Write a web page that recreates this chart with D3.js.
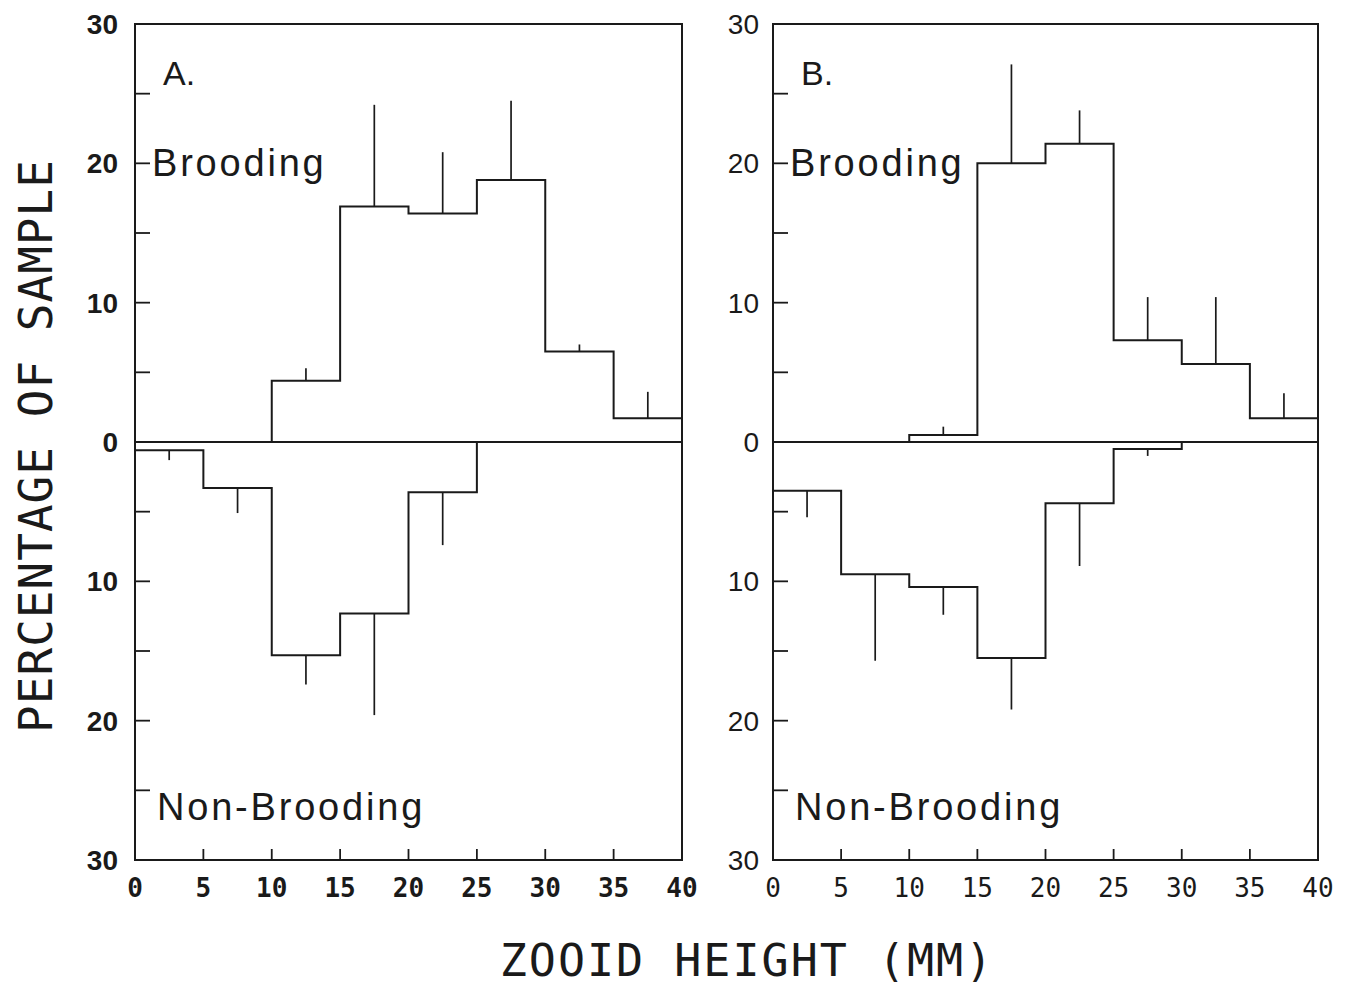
<!DOCTYPE html>
<html>
<head>
<meta charset="utf-8">
<script src="https://cdn.jsdelivr.net/npm/d3@7"></script>
<style>
  html, body { margin: 0; padding: 0; background: #fff; }
  svg { display: block; }
</style>
</head>
<body>
<svg id="chart" width="1356" height="986"></svg>
<script>
// Height classes (mm): bins of 5 mm from 0 to 40
const binEdges = [0, 5, 10, 15, 20, 25, 30, 35, 40];
const xTickValues = [0, 5, 10, 15, 20, 25, 30, 35, 40];
const yLabelValues = [30, 20, 10, 0, -10, -20, -30];
const yMinorTicks = [25, 20, 15, 10, 5, -5, -10, -15, -20, -25];

// Panel A: percentage of sample per height class, with error bars
const broodingA = [0, 0, 4.4, 16.9, 16.4, 18.8, 6.5, 1.7];
const broodingErrA = [0, 0, 0.9, 7.3, 4.4, 5.7, 0.5, 1.9];
const nonBroodingA = [0.6, 3.3, 15.3, 12.3, 3.6, 0, 0, 0];
const nonBroodingErrA = [0.7, 1.8, 2.1, 7.3, 3.8, 0, 0, 0];

// Panel B
const broodingB = [0, 0, 0.5, 20.0, 21.4, 7.3, 5.6, 1.7];
const broodingErrB = [0, 0, 0.6, 7.1, 2.4, 3.1, 4.8, 1.8];
const nonBroodingB = [3.5, 9.5, 10.4, 15.5, 4.4, 0.5, 0, 0];
const nonBroodingErrB = [1.9, 6.2, 2.0, 3.7, 4.5, 0.5, 0, 0];

const panels = [
  { label: "A.", left: 135, right: 682, bold: true,
    up: broodingA, upErr: broodingErrA, down: nonBroodingA, downErr: nonBroodingErrA },
  { label: "B.", left: 773, right: 1318, bold: false,
    up: broodingB, upErr: broodingErrB, down: nonBroodingB, downErr: nonBroodingErrB }
];

const plotTop = 24, plotBottom = 860;
const svg = d3.select("#chart");
const ink = "#1a1a1a";

panels.forEach(p => {
  const x = d3.scaleLinear().domain([0, 40]).range([p.left, p.right]);
  const y = d3.scaleLinear().domain([30, -30]).range([plotTop, plotBottom]);
  const g = svg.append("g");

  // frame
  g.append("rect")
    .attr("x", x(0)).attr("y", y(30))
    .attr("width", x(40) - x(0)).attr("height", y(-30) - y(30))
    .attr("fill", "none").attr("stroke", ink).attr("stroke-width", 2);

  // zero line
  g.append("line")
    .attr("x1", x(0)).attr("x2", x(40)).attr("y1", y(0)).attr("y2", y(0))
    .attr("stroke", ink).attr("stroke-width", 1.8);

  // inward y ticks
  g.selectAll(".yt").data(yMinorTicks).join("line")
    .attr("x1", x(0)).attr("x2", x(0) + 15)
    .attr("y1", d => y(d)).attr("y2", d => y(d))
    .attr("stroke", ink).attr("stroke-width", 1.8);

  // inward x ticks
  g.selectAll(".xt").data(xTickValues.slice(1, -1)).join("line")
    .attr("x1", d => x(d)).attr("x2", d => x(d))
    .attr("y1", y(-30)).attr("y2", y(-30) - 11)
    .attr("stroke", ink).attr("stroke-width", 1.8);

  // y tick labels (absolute percentages)
  g.selectAll(".yl").data(yLabelValues).join("text")
    .attr("x", x(0) - (p.bold ? 17 : 14))
    .attr("y", d => y(d) + 10)
    .attr("text-anchor", "end")
    .attr("font-family", "'Liberation Sans', Arial, sans-serif")
    .attr("font-size", 28)
    .attr("font-weight", p.bold ? "bold" : "normal")
    .attr("fill", ink)
    .text(d => Math.abs(d));

  // x tick labels
  g.selectAll(".xl").data(xTickValues).join("text")
    .attr("x", d => x(d))
    .attr("y", y(-30) + 37)
    .attr("text-anchor", "middle")
    .attr("font-family", "'DejaVu Sans Mono', monospace")
    .attr("font-size", 26)
    .attr("font-weight", p.bold ? "bold" : "normal")
    .attr("fill", ink)
    .text(d => d);

  // step outlines
  const stepLine = d3.line()
    .x(d => x(d[0])).y(d => y(d[1]))
    .curve(d3.curveStepAfter);
  const upPts = binEdges.map((e, i) => [e, p.up[Math.min(i, p.up.length - 1)]]);
  const downPts = binEdges.map((e, i) => [e, -p.down[Math.min(i, p.down.length - 1)]]);
  [upPts, downPts].forEach(pts => {
    g.append("path")
      .attr("d", stepLine(pts))
      .attr("fill", "none").attr("stroke", ink).attr("stroke-width", 2);
  });

  // error bars at bin midpoints
  const mids = binEdges.slice(0, -1).map(e => e + 2.5);
  const bars = [];
  mids.forEach((m, i) => {
    if (p.upErr[i] > 0) bars.push([m, p.up[i], p.up[i] + p.upErr[i]]);
    if (p.downErr[i] > 0) bars.push([m, -p.down[i], -(p.down[i] + p.downErr[i])]);
  });
  g.selectAll(".eb").data(bars).join("line")
    .attr("x1", d => x(d[0])).attr("x2", d => x(d[0]))
    .attr("y1", d => y(d[1])).attr("y2", d => y(d[2]))
    .attr("stroke", ink).attr("stroke-width", 1.7);

  // panel letter and group labels
  g.append("text")
    .attr("x", x(0) + 28).attr("y", y(30) + 61)
    .attr("font-family", "'Liberation Sans', Arial, sans-serif")
    .attr("font-size", 34).attr("fill", ink)
    .text(p.label);
  g.append("text")
    .attr("x", x(0) + 17).attr("y", y(20) + 13)
    .attr("font-family", "'Liberation Sans', Arial, sans-serif")
    .attr("font-size", 38).attr("letter-spacing", 2.8).attr("fill", ink)
    .text("Brooding");
  g.append("text")
    .attr("x", x(0) + 22).attr("y", y(-25) + 30)
    .attr("font-family", "'Liberation Sans', Arial, sans-serif")
    .attr("font-size", 38).attr("letter-spacing", 2.8).attr("fill", ink)
    .text("Non-Brooding");
});

// axis titles
svg.append("text")
  .attr("transform", "translate(52,446) rotate(-90)")
  .attr("text-anchor", "middle")
  .attr("font-family", "'DejaVu Sans Mono', monospace")
  .attr("font-size", 46).attr("letter-spacing", 1).attr("fill", ink)
  .text("PERCENTAGE OF SAMPLE");
svg.append("text")
  .attr("x", 747).attr("y", 976)
  .attr("text-anchor", "middle")
  .attr("font-family", "'DejaVu Sans Mono', monospace")
  .attr("font-size", 45).attr("letter-spacing", 2).attr("fill", ink)
  .text("ZOOID HEIGHT (MM)");
</script>
</body>
</html>
